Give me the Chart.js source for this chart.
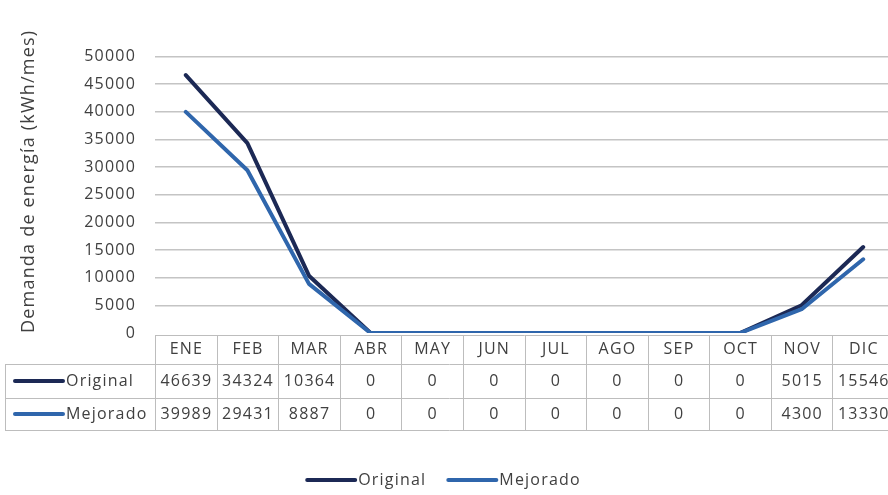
<!DOCTYPE html>
<html lang="es">
<head>
<meta charset="utf-8">
<title>Demanda de energía</title>
<script src="https://cdn.jsdelivr.net/npm/chart.js@4.4.1/dist/chart.umd.min.js"></script>
<style>
  html, body { margin: 0; padding: 0; background: #fff; overflow: hidden; }
  #wrap { position: relative; width: 888px; height: 495px; overflow: hidden; }
  canvas { display: block; }
</style>
</head>
<body>
<div id="wrap"><canvas id="chart" width="900" height="495"></canvas></div>
<script>
// Monthly energy demand, kWh/mes
const months = ['ENE', 'FEB', 'MAR', 'ABR', 'MAY', 'JUN', 'JUL', 'AGO', 'SEP', 'OCT', 'NOV', 'DIC'];
const original = [46639, 34324, 10364, 0, 0, 0, 0, 0, 0, 0, 5015, 15546];
const mejorado = [39989, 29431, 8887, 0, 0, 0, 0, 0, 0, 0, 4300, 13330];
const yTicks = [0, 5000, 10000, 15000, 20000, 25000, 30000, 35000, 40000, 45000, 50000];
const seriesNames = ['Original', 'Mejorado'];
const yTitle = 'Demanda de energía (kWh/mes)';

const COLORS = ['#1c2955', '#2f66ac'];
const FONT = '"Open Sans", "Liberation Sans", sans-serif';
const TEXT = '#404040';
const RULE = '#bdbdbd';
const SPACING = '1.2px';

// Data table under the plot plus the legend, aligned to the category scale
const dataTable = {
  id: 'dataTable',
  beforeDraw(chart) {
    chart.ctx.letterSpacing = SPACING;
  },
  afterDraw(chart) {
    const { ctx, scales: { x, y } } = chart;
    const n = months.length;
    const colW = (x.right - x.left) / n;
    const top = y.bottom + 2;
    const rows = [top, top + 29, top + 63, top + 95];
    const labelLeft = 5;
    const series = [original, mejorado];

    ctx.save();
    ctx.letterSpacing = SPACING;
    ctx.strokeStyle = RULE;
    ctx.lineWidth = 1;
    const hline = (x0, x1, yy) => { ctx.beginPath(); ctx.moveTo(x0, Math.round(yy) + 0.5); ctx.lineTo(x1, Math.round(yy) + 0.5); ctx.stroke(); };
    const vline = (xx, y0, y1) => { ctx.beginPath(); ctx.moveTo(Math.round(xx) + 0.5, y0); ctx.lineTo(Math.round(xx) + 0.5, y1); ctx.stroke(); };

    hline(x.left, x.right, rows[0]);
    hline(labelLeft, x.right, rows[1]);
    hline(labelLeft, x.right, rows[2]);
    hline(labelLeft, x.right, rows[3]);
    for (let i = 0; i <= n; i++) vline(x.left + i * colW, rows[0], rows[3] + 1);
    vline(labelLeft, rows[1], rows[3] + 1);

    ctx.fillStyle = TEXT;
    ctx.font = `16px ${FONT}`;
    ctx.textAlign = 'center';
    ctx.textBaseline = 'middle';
    months.forEach((m, i) => ctx.fillText(m, x.getPixelForValue(i) + 0.6, (rows[0] + rows[1]) / 2));

    series.forEach((vals, r) => {
      const cy = (rows[r + 1] + rows[r + 2]) / 2;
      // series key in the row header
      ctx.strokeStyle = COLORS[r];
      ctx.lineWidth = 4;
      ctx.lineCap = 'round';
      ctx.beginPath(); ctx.moveTo(15, cy); ctx.lineTo(63, cy); ctx.stroke();
      ctx.textAlign = 'left';
      ctx.fillText(seriesNames[r], 66, cy);
      ctx.textAlign = 'center';
      vals.forEach((v, i) => ctx.fillText(String(v), x.getPixelForValue(i) + 0.6, cy));
    });

    // legend
    const lineLen = 48, gap = 3, itemGap = 22, ly = 480;
    const widths = seriesNames.map(s => ctx.measureText(s).width);
    const total = widths.reduce((a, w) => a + lineLen + gap + w, 0) + itemGap * (seriesNames.length - 1);
    let lx = 444 - total / 2;
    seriesNames.forEach((s, i) => {
      ctx.strokeStyle = COLORS[i];
      ctx.lineWidth = 4;
      ctx.lineCap = 'round';
      ctx.beginPath(); ctx.moveTo(lx, ly); ctx.lineTo(lx + lineLen, ly); ctx.stroke();
      ctx.textAlign = 'left';
      ctx.fillText(s, lx + lineLen + gap, ly);
      lx += lineLen + gap + widths[i] + itemGap;
    });
    ctx.restore();
    ctx.letterSpacing = '0px';
  }
};

new Chart(document.getElementById('chart'), {
  type: 'line',
  data: {
    labels: months,
    datasets: [
      { label: seriesNames[0], data: original, borderColor: COLORS[0], backgroundColor: COLORS[0], order: 1 },
      { label: seriesNames[1], data: mejorado, borderColor: COLORS[1], backgroundColor: COLORS[1], order: 0 }
    ]
  },
  options: {
    responsive: false,
    animation: false,
    devicePixelRatio: 1,
    layout: { padding: { top: 56.5, right: 6, bottom: 162, left: 0 } },
    elements: {
      line: { borderWidth: 4, tension: 0, borderCapStyle: 'round', borderJoinStyle: 'round', fill: false },
      point: { radius: 0, hoverRadius: 0 }
    },
    plugins: {
      legend: { display: false },
      tooltip: { enabled: false }
    },
    scales: {
      x: {
        type: 'category',
        offset: true,
        display: false
      },
      y: {
        min: 0,
        max: 50000,
        afterBuildTicks: (scale) => { scale.ticks = yTicks.map(v => ({ value: v })); },
        afterFit: (scale) => { scale.width = 155; },
        border: { display: false },
        grid: {
          drawTicks: false,
          lineWidth: 1.5,
          color: (c) => (c.tick && c.tick.value === 0 ? 'rgba(0,0,0,0)' : '#c4c4c4')
        },
        ticks: {
          padding: 19,
          color: TEXT,
          font: { family: FONT, size: 16 },
          callback: (v) => String(v)
        },
        title: {
          display: true,
          text: yTitle,
          align: 'start',
          color: TEXT,
          font: { family: FONT, size: 18 },
          padding: { top: 18, bottom: 0 }
        }
      }
    }
  },
  plugins: [dataTable]
});
</script>
</body>
</html>
